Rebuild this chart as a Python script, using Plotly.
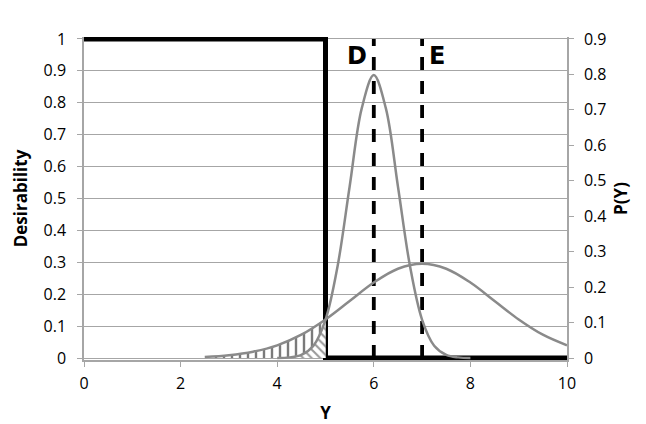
import plotly.graph_objects as go

# desirability step (left axis)
step_x = [0, 5, 5, 10]
step_y = [1, 1, 0, 0]

# target lines D and E
d_pos = 6
e_pos = 7

# P(Y), wide curve (right axis)
wide_x = [2.5, 3.0, 3.5, 4.0, 4.5, 5.0, 5.5, 6.0, 6.5, 7.0, 7.5, 8.0, 8.5, 9.0, 9.5, 10.0]
wide_p = [0.003, 0.008, 0.018, 0.036, 0.066, 0.109, 0.161, 0.213, 0.252, 0.266,
          0.252, 0.213, 0.161, 0.109, 0.066, 0.036]

# P(Y), narrow curve (right axis)
narrow_x = [4.0, 4.25, 4.5, 4.75, 5.0, 5.25, 5.5, 5.75, 6.0, 6.25, 6.5, 6.75, 7.0, 7.25, 7.5, 7.75, 8.0]
narrow_p = [0.0003, 0.002, 0.009, 0.035, 0.108, 0.259, 0.484, 0.704, 0.798, 0.704,
            0.484, 0.259, 0.108, 0.035, 0.009, 0.002, 0.0003]

x_ticks = [0, 2, 4, 6, 8, 10]
left_ticks = [0, 0.1, 0.2, 0.3, 0.4, 0.5, 0.6, 0.7, 0.8, 0.9, 1]
right_ticks = [0, 0.1, 0.2, 0.3, 0.4, 0.5, 0.6, 0.7, 0.8, 0.9]

curve_col = '#8a8a8a'
grid_col = '#a6a6a6'
font = 'Open Sans'
pad = 0.006  # tiny range padding so the thick black line at 0 / 1 isn't clipped

fig = go.Figure()

# hatched tails below x=5
wx = [x for x in wide_x if x <= 5]
fig.add_trace(go.Scatter(x=wx, y=wide_p[:len(wx)], yaxis='y2', mode='lines',
                         line=dict(width=0, shape='spline'), fill='tozeroy', fillcolor='rgba(0,0,0,0)',
                         fillpattern=dict(shape='|', fgcolor='#7a7a7a', bgcolor='white',
                                          fgopacity=1, size=8, solidity=0.3),
                         showlegend=False, hoverinfo='skip'))
nx = [x for x in narrow_x if x <= 5]
fig.add_trace(go.Scatter(x=nx, y=narrow_p[:len(nx)], yaxis='y2', mode='lines',
                         line=dict(width=0, shape='spline'), fill='tozeroy', fillcolor='rgba(0,0,0,0)',
                         fillpattern=dict(shape='\\', fgcolor='#999999', bgcolor='white',
                                          fgopacity=1, size=6, solidity=0.35),
                         showlegend=False, hoverinfo='skip'))

# curves
fig.add_trace(go.Scatter(x=wide_x, y=wide_p, yaxis='y2', mode='lines',
                         line=dict(color=curve_col, width=2.5, shape='spline'),
                         showlegend=False))
fig.add_trace(go.Scatter(x=narrow_x, y=narrow_p, yaxis='y2', mode='lines',
                         line=dict(color=curve_col, width=2.5, shape='spline'),
                         showlegend=False))

# dashed D / E lines
for pos in [d_pos, e_pos]:
    fig.add_trace(go.Scatter(x=[pos, pos], y=[0, 1], mode='lines',
                             line=dict(color='black', width=3.8, dash='13px,11px'),
                             showlegend=False))

# desirability
fig.add_trace(go.Scatter(x=step_x, y=step_y, mode='lines',
                         line=dict(color='black', width=5), showlegend=False))

fig.add_annotation(x=5.65, y=0.947, text='<b>D</b>', showarrow=False,
                   font=dict(family='DejaVu Sans', size=24, color='black'))
fig.add_annotation(x=7.31, y=0.947, text='<b>E</b>', showarrow=False,
                   font=dict(family='DejaVu Sans', size=24, color='black'))

fig.update_layout(
    width=646, height=424,
    margin=dict(l=76, r=87, t=29, b=72, autoexpand=False),
    plot_bgcolor='white', paper_bgcolor='white',
    font=dict(family=font, size=16, color='black'),
    xaxis=dict(range=[0, 10], tickvals=x_ticks, ticktext=[str(v) for v in x_ticks],
               showgrid=False, zeroline=False,
               showline=True, linecolor=grid_col, linewidth=1.5,
               ticks='outside', ticklen=5, tickcolor=grid_col, ticklabelstandoff=3,
               title=dict(text='<b>Y</b>', font=dict(size=17), standoff=14)),
    yaxis=dict(range=[-pad, 1 + pad], tickvals=left_ticks, ticktext=[f'{v:g}' for v in left_ticks],
               showgrid=True, gridcolor=grid_col, gridwidth=1.2, zeroline=False,
               showline=True, linecolor=grid_col, linewidth=1.5,
               ticks='outside', ticklen=5, tickcolor=grid_col, ticklabelstandoff=8,
               title=dict(text='<b>Desirability</b>', font=dict(size=17), standoff=12)),
    yaxis2=dict(range=[-pad * 0.9, 0.9 * (1 + pad)], tickvals=right_ticks,
                ticktext=[f'{v:g}' for v in right_ticks],
                overlaying='y', side='right', showgrid=False, zeroline=False,
                showline=True, linecolor=grid_col, linewidth=1.5,
                ticks='outside', ticklen=5, tickcolor=grid_col, ticklabelstandoff=7,
                title=dict(text='<b>P(Y)</b>', font=dict(size=17), standoff=10)),
)

fig.write_html('out.html')
